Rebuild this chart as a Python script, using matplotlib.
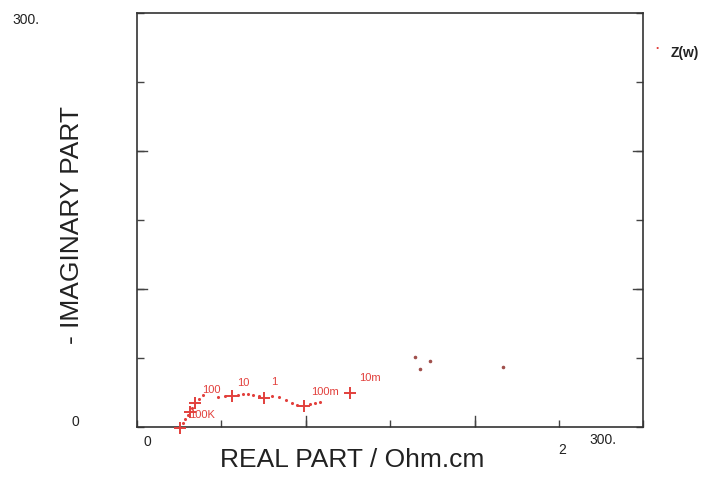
import matplotlib.pyplot as plt

plt.rcParams['font.family'] = ['Liberation Sans', 'DejaVu Sans']

# crosses (measured points, red)
kruis_x = [25.5, 31.4, 34.4, 56.3, 75.3, 99.0, 126.3]
kruis_y = [-0.7, 10.9, 17.4, 22.5, 21.0, 15.2, 24.6]

# dotted path between crosses
stip_x = [27.0, 28.5, 30.0, 32.8, 36.5, 39.0, 48.0, 52.0, 60.0, 63.0, 66.0, 69.0, 72.0,
          80.0, 84.0, 88.0, 92.0, 95.0, 102.6, 105.5, 108.5]
stip_y = [3.0, 6.0, 8.5, 14.0, 20.5, 23.0, 22.0, 22.5, 23.5, 24.0, 24.0, 23.5, 22.5,
          22.5, 21.5, 19.5, 17.5, 16.0, 16.6, 17.4, 18.1]

# loose dots, darker
los_x = [164.8, 173.7, 167.8, 217.0]
los_y = [50.7, 47.8, 42.0, 43.5]

# frequency labels
freq_labels = ['100K', '100', '10', '1', '100m', '10m']
freq_x = [31.0, 43.9, 62.9, 81.3, 111.5, 138.2]
freq_y = [8.5, 26.8, 31.9, 32.6, 25.4, 35.5]

x_ticklabels = ['0', '300.']
y_ticklabels = ['0', '300.']

rood = '#e2403c'

fig = plt.figure(figsize=(7.1, 4.95), dpi=100)
ax = fig.add_axes([0.193, 0.137, 0.713, 0.837])

ax.scatter(stip_x, stip_y, s=1.5, color=rood, zorder=3)
ax.scatter(kruis_x, kruis_y, marker='+', s=70, color=rood, linewidths=1.4, zorder=4,
           clip_on=False)
ax.scatter(los_x, los_y, s=2.5, color='#a0504c', zorder=3)

for lab, fx, fy in zip(freq_labels, freq_x, freq_y):
    ha = 'left' if lab == '100K' else 'center'
    ax.text(fx, fy, lab, color=rood, fontsize=8, ha=ha, va='center')

ax.set_xlim(0, 300)
ax.set_ylim(0, 300)
ax.set_xticks([0, 50, 100, 150, 200, 250, 300])
ax.set_yticks([0, 50, 100, 150, 200, 250, 300])
ax.set_xticklabels([])
ax.set_yticklabels([])
ax.tick_params(direction='in', length=5, width=1, color='#444444',
               left=True, right=True, top=False, bottom=True)
for spine in ax.spines.values():
    spine.set_color('#333333')
    spine.set_linewidth(1.2)

# longer ticks at 100 and 200
for v in [100, 200]:
    ax.plot([v, v], [0, 8], color='#444444', lw=1)
    ax.plot([0, 6], [v, v], color='#444444', lw=1)
    ax.plot([294, 300], [v, v], color='#444444', lw=1)

# tick labels placed like the original
ax.text(0.012, -0.018, x_ticklabels[0], transform=ax.transAxes, fontsize=10,
        ha='left', va='top', color='#222222')
ax.text(0.92, -0.015, x_ticklabels[1], transform=ax.transAxes, fontsize=10,
        ha='center', va='top', color='#222222')
fig.text(0.106, 0.147, y_ticklabels[0], fontsize=10, ha='center', va='center', color='#222222')
fig.text(0.036, 0.960, y_ticklabels[1], fontsize=10, ha='center', va='center', color='#222222')

fig.text(0.102, 0.545, '- IMAGINARY PART', rotation=90, fontsize=19,
         ha='center', va='center', color='#222222')
fig.text(0.496, 0.07, 'REAL PART / Ohm.cm', fontsize=19, ha='center', va='center',
         color='#222222')
fig.text(0.792, 0.09, '2', fontsize=10, ha='center', va='center', color='#222222')

# legend
fig.text(0.925, 0.893, '.', fontsize=14, color=rood, ha='center', va='bottom')
fig.text(0.944, 0.893, 'Z(w)', fontsize=10, fontweight='bold', ha='left', va='center',
         color='#222222')

fig.savefig('out.png', dpi=100)
